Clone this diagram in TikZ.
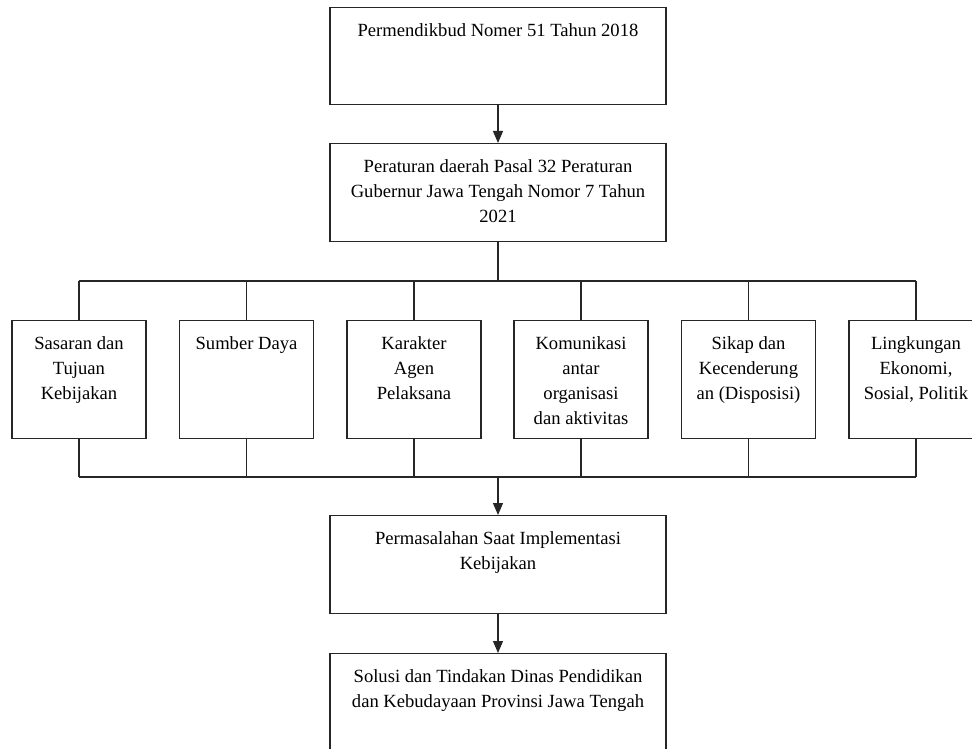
\documentclass[tikz,border=0pt]{standalone}
\usepackage{fontspec}
\setmainfont{Liberation Serif}
\usetikzlibrary{arrows.meta}
\newcommand{\isi}[3]{\parbox[t][#2][t]{#1}{\centering\rule{0pt}{29pt}#3}}
\tikzset{
  kotak/.style={draw=black!85, line width=1.2pt, inner sep=0pt, anchor=north},
  garis/.style={draw=black!85, line width=1.2pt},
  panah/.style={garis, -{Triangle[length=12pt,width=10pt]}}
}
\begin{document}
\begin{tikzpicture}[x=1pt,y=-1pt,font=\fontsize{18.6}{24.8}\selectfont]
\useasboundingbox (0,0) rectangle (972,749);
\node[kotak] (perm) at (498,7) {\isi{336pt}{97pt}{Permendikbud Nomer 51 Tahun 2018}};
\node[kotak] (perda) at (498,143) {\isi{336pt}{98pt}{Peraturan daerah Pasal 32 Peraturan\\Gubernur Jawa Tengah Nomor 7 Tahun\\2021}};
\node[kotak] (sasaran) at (79,320) {\isi{134pt}{118pt}{Sasaran dan\\Tujuan\\Kebijakan}};
\node[kotak] (sumber) at (246.5,320) {\isi{134pt}{118pt}{Sumber Daya}};
\node[kotak] (agen) at (414,320) {\isi{134pt}{118pt}{Karakter\\Agen\\Pelaksana}};
\node[kotak] (komunikasi) at (581,320) {\isi{134pt}{118pt}{Komunikasi\\antar\\organisasi\\dan aktivitas}};
\node[kotak] (sikap) at (748.5,320) {\isi{134pt}{118pt}{Sikap dan\\Kecenderung\\an (Disposisi)}};
\node[kotak] (lingkungan) at (916,320) {\isi{134pt}{118pt}{Lingkungan\\Ekonomi,\\Sosial, Politik}};
\node[kotak] (masalah) at (498,515) {\isi{336pt}{98pt}{Permasalahan Saat Implementasi\\Kebijakan}};
\node[kotak] (solusi) at (498,653) {\isi{336pt}{98pt}{Solusi dan Tindakan Dinas Pendidikan\\dan Kebudayaan Provinsi Jawa Tengah}};
\coordinate (atas) at (498,281);
\coordinate (bawah) at (498,477);
\draw[panah] (perm.south) -- (perda.north);
\draw[garis] (perda.south) -- (atas);
\draw[garis] (sasaran.north |- atas) -- (lingkungan.north |- atas);
\draw[garis] (sasaran.north |- atas) -- (sasaran.north);
\draw[garis] (sumber.north |- atas) -- (sumber.north);
\draw[garis] (agen.north |- atas) -- (agen.north);
\draw[garis] (komunikasi.north |- atas) -- (komunikasi.north);
\draw[garis] (sikap.north |- atas) -- (sikap.north);
\draw[garis] (lingkungan.north |- atas) -- (lingkungan.north);
\draw[garis] (sasaran.south) -- (sasaran.south |- bawah);
\draw[garis] (sumber.south) -- (sumber.south |- bawah);
\draw[garis] (agen.south) -- (agen.south |- bawah);
\draw[garis] (komunikasi.south) -- (komunikasi.south |- bawah);
\draw[garis] (sikap.south) -- (sikap.south |- bawah);
\draw[garis] (lingkungan.south) -- (lingkungan.south |- bawah);
\draw[garis] (sasaran.south |- bawah) -- (lingkungan.south |- bawah);
\draw[panah] (bawah) -- (masalah.north);
\draw[panah] (masalah.south) -- (solusi.north);
\end{tikzpicture}
\end{document}
